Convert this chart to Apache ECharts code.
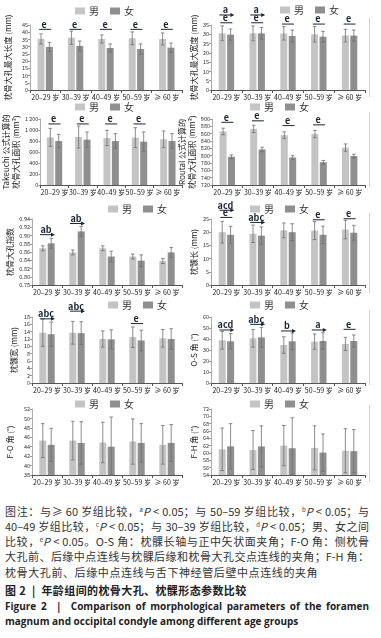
<!DOCTYPE html>
<html>
<head>
<meta charset="utf-8">
<script src="https://cdn.jsdelivr.net/npm/echarts@6/dist/echarts.min.js"></script>
<style>
  html, body { margin: 0; padding: 0; background: #fff; }
  #page { position: relative; width: 381px; height: 638px; overflow: hidden; }
  #chart { position: absolute; left: 0; top: 0; width: 381px; height: 500px; }
  .ln {
    position: absolute; left: 5px; width: 364px; height: 14px; line-height: 14px;
    font-family: "Noto Sans CJK SC", sans-serif; font-size: 11px; color: #333; white-space: nowrap;
  }
  .j { text-align: justify; text-align-last: justify; }
  .ln sup { font-size: 6px; vertical-align: 4px; line-height: 0; }
  .b { font-weight: bold; color: #222; }
  .en { font-family: "Open Sans", sans-serif; font-weight: bold; font-size: 10px; color: #222; }
</style>
</head>
<body>
<div id="page">
  <div id="chart"></div>
  <div class="ln j" style="top:504px">图注：与≥ 60 岁组比较，<sup>a</sup><i>P</i> &lt; 0.05；与 50–59 岁组比较，<sup>b</sup><i>P</i> &lt; 0.05；与</div>
  <div class="ln j" style="top:519px">40–49 岁组比较，<sup>c</sup><i>P</i> &lt; 0.05；与 30–39 岁组比较，<sup>d</sup><i>P</i> &lt; 0.05；男、女之间</div>
  <div class="ln j" style="top:534px">比较，<sup>e</sup><i>P</i> &lt; 0.05。O-S 角：枕髁长轴与正中矢状面夹角；F-O 角：侧枕骨</div>
  <div class="ln j" style="top:549px">大孔前、后缘中点连线与枕髁后缘和枕骨大孔交点连线的夹角；F-H 角：</div>
  <div class="ln" style="top:565px; letter-spacing:0.6px">枕骨大孔前、后缘中点连线与舌下神经管后壁中点连线的夹角</div>
  <div class="ln b" style="top:583px; letter-spacing:0.4px">图 2 &nbsp;| &nbsp;年龄组间的枕骨大孔、枕髁形态参数比较</div>
  <div class="ln en j" style="top:599px">Figure 2 &nbsp;| &nbsp;Comparison of morphological parameters of the foramen</div>
  <div class="ln en" style="top:614px">magnum and occipital condyle among different age groups</div>
</div>
<script>
const ageGroups = ['20–29 岁', '30–39 岁', '40–49 岁', '50–59 岁', '≥ 60 岁'];
const sexNames = ['男', '女'];

// 枕骨大孔最大长度
const lenMale = [35.3, 36.2, 35.3, 35.8, 35.3];
const lenMaleSd = [3.5, 4.6, 2.8, 4.4, 4.2];
const lenFemale = [29.8, 30.5, 29.1, 28.4, 29.3];
const lenFemaleSd = [3.2, 3.4, 2.8, 3.5, 3.2];
const lenMarks = [[0, 'e', 'line', 42], [1, 'e', 'line', 42], [2, 'e', 'line', 42], [3, 'e', 'line', 42], [4, 'e', 'line', 42]];

// 枕骨大孔最大宽度
const widMale = [30.5, 30.5, 30.5, 30.0, 29.3];
const widMaleSd = [4.0, 4.0, 3.6, 4.1, 3.4];
const widFemale = [29.8, 30.5, 29.1, 28.7, 29.3];
const widFemaleSd = [3.0, 3.1, 3.2, 2.9, 3.0];
const widMarks = [[0, 'a', 'arrow', 40.4], [0, 'e', 'line', 36.2], [1, 'a', 'arrow', 40.4], [1, 'e', 'line', 36.2],
  [2, 'e', 'line', 35.5], [3, 'e', 'line', 35.5], [4, 'e', 'line', 35.5]];

// Takeuchi 面积
const takMale = [867, 873, 855, 861, 830];
const takMaleSd = [163, 200, 139, 181, 152];
const takFemale = [800, 824, 800, 788, 800];
const takFemaleSd = [121, 140, 133, 176, 133];
const takMarks = [[0, 'e', 'line', 1110], [1, 'e', 'line', 1110], [2, 'e', 'line', 1110], [3, 'e', 'line', 1110]];

// Routal 面积
const rouMale = [866, 873, 856, 859, 822];
const rouMaleSd = [9, 10, 9, 10, 10];
const rouFemale = [797, 817, 795, 782, 799];
const rouFemaleSd = [5, 6, 5, 5, 5];
const rouMarks = [[0, 'e', 'line', 891], [1, 'e', 'line', 895], [2, 'e', 'line', 882], [3, 'e', 'line', 884]];

// 枕骨大孔指数
const idxMale = [0.869, 0.859, 0.869, 0.849, 0.838];
const idxMaleSd = [0.006, 0.006, 0.006, 0.006, 0.006];
const idxFemale = [0.881, 0.910, 0.849, 0.839, 0.859];
const idxFemaleSd = [0.012, 0.012, 0.013, 0.014, 0.012];
const idxMarks = [[0, 'ab', 'arrow', 0.902], [1, 'ab', 'arrow', 0.929]];

// 枕髁长
const cLenMale = [20.0, 19.4, 20.7, 20.6, 21.0];
const cLenMaleSd = [4.1, 3.3, 2.8, 3.4, 3.5];
const cLenFemale = [19.0, 18.7, 20.0, 19.0, 19.8];
const cLenFemaleSd = [3.2, 3.3, 3.2, 3.3, 2.8];
const cLenMarks = [[0, 'acd', 'arrow', 28.3], [0, 'e', 'line', 25.6], [1, 'abc', 'arrow', 23.7], [3, 'e', 'line', 24.7], [4, 'e', 'line', 25.1]];

// 枕髁宽
const cWidMale = [13.7, 13.7, 12.0, 12.5, 12.2];
const cWidMaleSd = [3.7, 3.1, 2.2, 2.8, 2.4];
const cWidFemale = [13.3, 13.6, 11.9, 11.6, 12.0];
const cWidFemaleSd = [3.3, 3.1, 2.6, 2.8, 2.8];
const cWidMarks = [[0, 'abc', 'arrow', 17.5], [1, 'abc', 'arrow', 19.6], [3, 'e', 'line', 16.2]];

// O-S 角
const osMale = [38.8, 40.6, 34.5, 37.6, 35.5];
const osMaleSd = [8.0, 8.0, 7.5, 7.0, 6.0];
const osFemale = [37.9, 41.5, 37.9, 38.2, 38.2];
const osFemaleSd = [7.0, 9.0, 7.5, 7.5, 5.5];
const osMarks = [[0, 'acd', 'arrow', 48.2], [1, 'abc', 'arrow', 53.3], [2, 'b', 'arrow', 47.3], [3, 'a', 'arrow', 48.2], [4, 'e', 'line', 48.8]];

// F-O 角
const foMale = [45.3, 45.3, 44.9, 45.1, 44.4];
const foMaleSd = [3.6, 4.1, 4.3, 4.8, 4.1];
const foFemale = [44.4, 44.8, 44.0, 44.8, 44.8];
const foFemaleSd = [3.5, 4.5, 6.3, 4.1, 3.9];

// F-H 角
const fhMale = [61.0, 60.8, 62.0, 61.4, 60.6];
const fhMaleSd = [5.8, 5.3, 5.5, 6.0, 6.0];
const fhFemale = [61.8, 61.8, 61.3, 60.1, 60.5];
const fhFemaleSd = [6.2, 5.6, 8.3, 5.1, 5.9];

const MALE_COLOR = '#c4c4c4';
const FEMALE_COLOR = '#8f8f8f';
const ERR_COLOR = '#6e6e6e';
const MARK_COLOR = '#1e2330';
const FONT = '"Noto Sans CJK SC", sans-serif';
const BAR_W = 7;
const BAR_GAP = 0.2;
const BAR_OFF = (BAR_W + BAR_W * BAR_GAP) / 2;

const panels = [
  { name: '枕骨大孔最大长度 (mm)', m: lenMale, ms: lenMaleSd, f: lenFemale, fs: lenFemaleSd, min: 0, max: 45, step: 5, marks: lenMarks },
  { name: '枕骨大孔最大宽度 (mm)', m: widMale, ms: widMaleSd, f: widFemale, fs: widFemaleSd, min: 0, max: 35, step: 5, marks: widMarks },
  { name: 'Takeuchi 公式计算的\n枕骨大孔面积 (mm²)', m: takMale, ms: takMaleSd, f: takFemale, fs: takFemaleSd, min: 0, max: 1200, step: 200, marks: takMarks,
    fmt: v => v >= 1000 ? Math.floor(v / 1000) + ' ' + String(v % 1000).padStart(3, '0') : String(v) },
  { name: 'Routal 公式计算的\n枕骨大孔面积 (mm²)', m: rouMale, ms: rouMaleSd, f: rouFemale, fs: rouFemaleSd, min: 720, max: 900, step: 20, marks: rouMarks },
  { name: '枕骨大孔指数', m: idxMale, ms: idxMaleSd, f: idxFemale, fs: idxFemaleSd, min: 0.78, max: 0.94, step: 0.02, marks: idxMarks,
    fmt: v => v.toFixed(2) },
  { name: '枕髁长 (mm)', m: cLenMale, ms: cLenMaleSd, f: cLenFemale, fs: cLenFemaleSd, min: 0, max: 25, step: 5, marks: cLenMarks },
  { name: '枕髁宽 (mm)', m: cWidMale, ms: cWidMaleSd, f: cWidFemale, fs: cWidFemaleSd, min: 0, max: 18, step: 2, marks: cWidMarks },
  { name: 'O-S 角 (°)', m: osMale, ms: osMaleSd, f: osFemale, fs: osFemaleSd, min: 0, max: 60, step: 10, marks: osMarks },
  { name: 'F-O 角 (°)', m: foMale, ms: foMaleSd, f: foFemale, fs: foFemaleSd, min: 38, max: 52, step: 2, marks: [] },
  { name: 'F-H 角 (°)', m: fhMale, ms: fhMaleSd, f: fhFemale, fs: fhFemaleSd, min: 54, max: 72, step: 2, marks: [] }
];

// grid boxes and legend spots, one per panel
const boxes = [
  { left: 30, top: 25, width: 152, height: 65, gap: 17, lg: [75, 6] },
  { left: 211, top: 25, width: 154, height: 65, gap: 11, lg: [280, 5] },
  { left: 32, top: 119, width: 150, height: 66, gap: 11, lg: [75, 102] },
  { left: 212, top: 119, width: 153, height: 66, gap: 11, lg: [250, 102] },
  { left: 32, top: 219, width: 150, height: 66, gap: 13, lg: [108, 204] },
  { left: 211, top: 219, width: 154, height: 66, gap: 10, lg: [250, 204] },
  { left: 32, top: 317, width: 150, height: 66, gap: 13, lg: [108, 300] },
  { left: 211, top: 317, width: 154, height: 66, gap: 10, lg: [250, 300] },
  { left: 32, top: 409, width: 150, height: 66, gap: 17, lg: [75, 399] },
  { left: 211, top: 409, width: 154, height: 66, gap: 12, lg: [250, 399] }
];

function errorSeries(gi, means, sds, side, yMin) {
  return {
    type: 'custom', xAxisIndex: gi, yAxisIndex: gi, z: 5, silent: true,
    data: means.map((v, i) => [i, v, sds[i]]),
    encode: { x: 0, y: 1 },
    renderItem: (params, api) => {
      const i = api.value(0), v = api.value(1), s = api.value(2);
      const x = api.coord([i, v])[0] + side * BAR_OFF;
      const yTop = api.coord([i, v + s])[1];
      const yBot = api.coord([i, Math.max(v - s, yMin)])[1];
      const st = { stroke: ERR_COLOR, lineWidth: 0.8 };
      return {
        type: 'group',
        children: [
          { type: 'line', shape: { x1: x, y1: yTop, x2: x, y2: yBot }, style: st },
          { type: 'line', shape: { x1: x - 1.8, y1: yTop, x2: x + 1.8, y2: yTop }, style: st },
          { type: 'line', shape: { x1: x - 1.8, y1: yBot, x2: x + 1.8, y2: yBot }, style: st }
        ]
      };
    }
  };
}

function markSeries(gi, marks) {
  return {
    type: 'custom', xAxisIndex: gi, yAxisIndex: gi, z: 6, silent: true,
    data: marks.map(mk => [mk[0], mk[3]]),
    encode: { x: 0, y: 1 },
    renderItem: (params, api) => {
      const mk = marks[params.dataIndex];
      const [x, y] = api.coord([api.value(0), api.value(1)]);
      const kids = [
        { type: 'text', x: x - 1, y: y - 0.5, style: { text: mk[1], fill: MARK_COLOR, font: 'bold 9px ' + FONT, align: 'center', verticalAlign: 'bottom' } }
      ];
      const st = { stroke: MARK_COLOR, lineWidth: 1 };
      if (mk[2] === 'arrow') {
        kids.push({ type: 'line', shape: { x1: x - 7, y1: y, x2: x + 5, y2: y }, style: st });
        kids.push({ type: 'polygon', shape: { points: [[x + 8, y], [x + 4, y - 2], [x + 4, y + 2]] }, style: { fill: MARK_COLOR } });
      } else {
        kids.push({ type: 'line', shape: { x1: x - 6, y1: y, x2: x + 6, y2: y }, style: st });
      }
      return { type: 'group', children: kids };
    }
  };
}

const grid = [], xAxis = [], yAxis = [], legend = [], series = [];
panels.forEach((p, gi) => {
  const b = boxes[gi];
  grid.push({ left: b.left, top: b.top, width: b.width, height: b.height });
  xAxis.push({
    type: 'category', gridIndex: gi, data: ageGroups,
    axisLine: { lineStyle: { color: '#555', width: 1 } },
    axisTick: { show: true, length: 3, lineStyle: { color: '#555' } },
    axisLabel: { fontSize: 7, color: '#222', margin: 4, fontFamily: FONT, interval: 0 }
  });
  yAxis.push({
    type: 'value', gridIndex: gi, min: p.min, max: p.max, interval: p.step,
    name: p.name, nameLocation: 'middle', nameRotate: 90, nameGap: b.gap,
    nameTextStyle: { fontSize: 8, color: '#222', fontFamily: FONT, lineHeight: 10 },
    axisLine: { show: true, lineStyle: { color: '#999', width: 0.8 } },
    axisTick: { show: true, length: 2, lineStyle: { color: '#999' } },
    axisLabel: { fontSize: 5.5, color: '#333', margin: 2, fontFamily: FONT, formatter: p.fmt || (v => String(v)) },
    splitLine: { show: false }
  });
  legend.push({
    data: sexNames, left: b.lg[0], top: b.lg[1], padding: 0, icon: 'rect',
    itemWidth: 10, itemHeight: 7, itemGap: 11, selectedMode: false,
    textStyle: { fontSize: 10, color: '#333', fontFamily: FONT, padding: [0, 0, 0, -1] }
  });
  series.push(
    { type: 'bar', name: sexNames[0], xAxisIndex: gi, yAxisIndex: gi, data: p.m, barWidth: BAR_W, barGap: (BAR_GAP * 100) + '%',
      itemStyle: { color: MALE_COLOR }, silent: true },
    { type: 'bar', name: sexNames[1], xAxisIndex: gi, yAxisIndex: gi, data: p.f, barWidth: BAR_W, barGap: (BAR_GAP * 100) + '%',
      itemStyle: { color: FEMALE_COLOR }, silent: true },
    errorSeries(gi, p.m, p.ms, -1, p.min),
    errorSeries(gi, p.f, p.fs, 1, p.min)
  );
  if (p.marks.length) series.push(markSeries(gi, p.marks));
});

// thin frame lines on the right edge of the right-hand panels
const frameLines = [[18, 97], [112, 187], [213, 293], [310, 385], [405, 482]].map(([y1, y2]) => ({
  type: 'line', shape: { x1: 369.5, y1: y1, x2: 369.5, y2: y2 }, style: { stroke: '#d0d0d0', lineWidth: 1 }
}));

const chart = echarts.init(document.getElementById('chart'));
chart.setOption({
  animation: false,
  textStyle: { fontFamily: FONT },
  grid, xAxis, yAxis, legend, series,
  graphic: frameLines
});
</script>
</body>
</html>
